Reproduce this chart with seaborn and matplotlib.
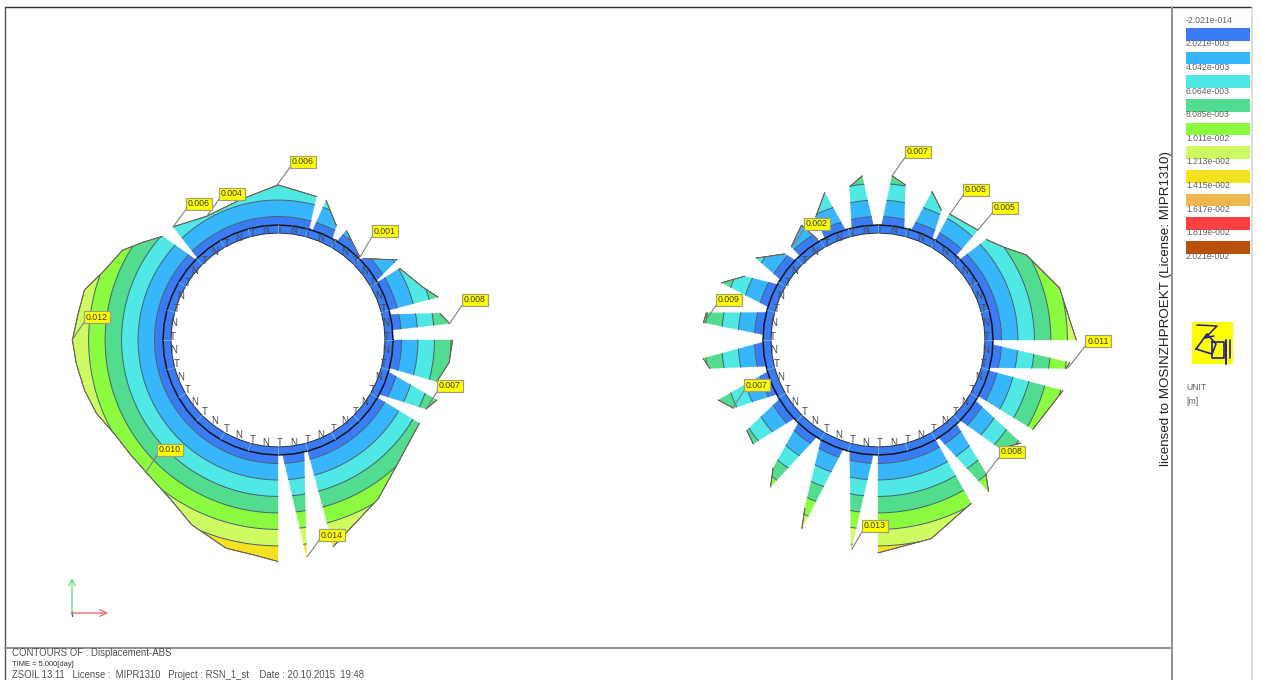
import numpy as np
import matplotlib
matplotlib.use('Agg')
import matplotlib.pyplot as plt
import seaborn as sns

# contour levels and colours, displacement in 1e-3 m
level_labels = ['-2.021e-014', '2.021e-003', '4.042e-003', '6.064e-003', '8.085e-003', '1.011e-002',
                '1.213e-002', '1.415e-002', '1.617e-002', '1.819e-002', '2.021e-002']
level_values = [0.0, 2.021, 4.042, 6.064, 8.085, 10.11, 12.13, 14.15, 16.17, 18.19, 20.21]
band_colors = ['#3a7cf5', '#38b6fb', '#4fe8e4', '#52dc8f', '#8bfb3f', '#cffb62', '#f3e21f', '#efb64d', '#fc4040', '#b9500a']

# one sector per list: (angle on the ring, angle of the outer point, displacement)
left_sectors = [
    [(135, 138, 5.9), (142.5, 144, 7.3), (150, 150, 8.9), (157.5, 158.7, 9.9), (165, 165.5, 11.4),
     (172.5, 172.4, 11.6), (180, 180, 12.1), (187.5, 186.6, 11.8), (195, 194.5, 11.4), (202.5, 202, 10.9),
     (210, 210, 10.0), (217.5, 217.4, 9.8), (225, 225, 9.8), (232.5, 235.6, 10.4), (240, 245, 11.9),
     (255, 256, 13.2), (262.5, 263.4, 13.4), (270, 270, 14.05)],
    [(135, 132.8, 5.8), (120, 120, 4.4), (105, 105, 4.7), (90, 90, 5.9), (74, 75, 5.1)],
    [(73, 71, 5.0), (61, 62.9, 2.6)],
    [(60, 58, 2.7), (45.6, 45.6, 1.2)],
    [(45, 43.9, 1.3), (30, 33.9, 4.5)],
    [(30, 30.5, 4.2), (22.5, 20, 5.8), (15, 15, 7.2)],
    [(13.7, 9.4, 7.0), (4.9, 5.5, 8.0)],
    [(0, 0, 8.3), (-7.5, -7.5, 8.05), (-14, -14.7, 7.0)],
    [(-15, -20.7, 7.7), (-29, -25, 6.9)],
    [(-30, -30.5, 7.0), (-45, -47, 8.1), (-60, -57.7, 9.9), (-75, -75, 13.1)],
    [(-88.5, -82.5, 13.7), (-76, -82.5, 13.7)],
]
right_sectors = [
    [(45, 42.9, 5.0), (37.5, 36.7, 6.0), (30, 29.8, 7.85), (22.5, 22.5, 8.8), (15, 15.9, 10.05),
     (7.5, 7.5, 10.4), (0, 0, 11.2)],
    [(-1.5, -6.7, 10.55), (-15, -8.6, 10.2)],
    [(-15.5, -15.3, 10.4), (-29, -30, 8.8)],
    [(-31, -35.8, 8.5), (-45, -41.7, 6.9)],
    [(-46, -51, 7.9), (-50, -53.9, 9.9), (-59, -53.9, 9.9)],
    [(-60, -60.3, 9.95), (-75, -75, 12.1), (-90, -90, 13.0)],
    [(-91.6, -97.3, 12.8), (-105.4, -97.3, 12.8)],
    [(-107, -112, 11.8), (-121, -113.5, 9.4)],
    [(-121.5, -126.2, 9.2), (-135, -129.3, 7.2)],
    [(-136, -140.2, 6.8), (-150, -145.5, 6.4)],
    [(-151, -154.8, 6.5), (-165, -159.4, 7.8)],
    [(-166, -170.4, 7.8), (-180, -174, 8.45)],
    [(178, 174.3, 8.4), (165, 171, 8.2)],
    [(164, 159.9, 7.3), (150, 154.4, 5.0)],
    [(149, 146.1, 4.9), (135, 137.3, 2.45)],
    [(133, 132.9, 2.5), (125, 123.7, 3.8), (121, 121, 1.3)],
    [(118, 116.8, 3.8), (112, 109.9, 6.1), (105.5, 109.9, 6.1)],
    [(104, 100.5, 6.0), (91.5, 95.5, 7.1)],
    [(89, 85.1, 7.1), (76, 80, 6.2)],
    [(74, 70, 6.25), (61, 64, 4.6)],
    [(60, 60.4, 4.65), (47, 47.7, 5.1)],
]

# yellow value flags
left_flags = ['0.006', '0.004', '0.006', '0.001', '0.008', '0.012', '0.007', '0.010', '0.014']
left_flag_xy = [(303, 162), (232, 194), (199, 204), (385, 231), (475, 300), (97, 317), (450, 386), (170, 450), (332, 535)]
left_flag_tip = [(277, 185), (207, 216), (173, 227), (360, 257), (450, 323), (72, 340), (426, 409), (146, 472), (307, 557)]
right_flags = ['0.007', '0.005', '0.005', '0.002', '0.009', '0.007', '0.011', '0.008', '0.013']
right_flag_xy = [(918, 152), (976, 190), (1005, 208), (817, 224), (729, 300), (757, 385), (1098, 341), (1012, 452), (875, 526)]
right_flag_tip = [(892, 176), (950, 214), (978, 230), (792, 247), (704, 323), (733, 408), (1068, 368), (987, 473), (852, 549)]

R0 = 107.0
RING = 115.0
K = 8.15  # px per 1e-3 m

sns.set_theme(style='white')
plt.rcParams['font.family'] = ['Liberation Sans', 'DejaVu Sans']

fig = plt.figure(figsize=(12.61, 6.80), dpi=100)
ax = fig.add_axes([0, 0, 1, 1])
ax.set_xlim(0, 1261)
ax.set_ylim(680, 0)
ax.axis('off')


def polar(cx, cy, ang, r):
    a = np.radians(ang)
    return np.column_stack([cx + r * np.cos(a), cy - r * np.sin(a)])


def draw_sector(cx, cy, nodes):
    nodes = np.array(nodes, dtype=float)
    s = np.linspace(0, len(nodes) - 1, 30 * (len(nodes) - 1) + 1)
    idx = np.arange(len(nodes))
    base = polar(cx, cy, np.interp(s, idx, nodes[:, 0]), R0)
    node_out = polar(cx, cy, nodes[:, 1], R0 + K * nodes[:, 2])
    outer = np.column_stack([np.interp(s, idx, node_out[:, 0]), np.interp(s, idx, node_out[:, 1])])
    d = (np.hypot(outer[:, 0] - cx, outer[:, 1] - cy) - R0) / K
    d = np.maximum(d, 0.05)
    for k, col in enumerate(band_colors):
        ta = np.minimum(level_values[k] / d, 1)[:, None]
        tb = np.minimum(level_values[k + 1] / d, 1)[:, None]
        pa = base + ta * (outer - base)
        pb = base + tb * (outer - base)
        poly = np.vstack([pa, pb[::-1]])
        ax.fill(poly[:, 0], poly[:, 1], color=col, lw=0.2, zorder=2)
        line = pb.copy()
        line[level_values[k + 1] >= d] = np.nan
        ax.plot(line[:, 0], line[:, 1], color='#46606e', lw=0.7, zorder=3)
    ax.plot(outer[:, 0], outer[:, 1], color='#5a6a70', lw=0.8, zorder=3)


def draw_ring(cx, cy):
    ang = np.arange(0, 361, 7.5)
    inner = polar(cx, cy, ang, R0)
    out = polar(cx, cy, ang, RING)
    poly = np.vstack([inner, out[::-1]])
    ax.fill(poly[:, 0], poly[:, 1], color=band_colors[0], lw=0, zorder=4)
    ax.plot(out[:, 0], out[:, 1], color='#101418', lw=1.1, zorder=5)
    ax.plot(inner[:, 0], inner[:, 1], color='#303438', lw=0.7, zorder=5)
    for a in np.arange(0, 360, 15):
        p = polar(cx, cy, np.array([a, a]), np.array([R0, RING]))
        ax.plot(p[:, 0], p[:, 1], color='#6fb8d8', lw=0.6, zorder=5)
        tp = polar(cx, cy, np.array([a, a + 7.5]), np.array([R0, R0]))
        ax.text(tp[0, 0] + 2, tp[0, 1] - 3.5, 'T', fontsize=7, color='#484848', ha='center', va='center', zorder=6)
        ax.text(tp[1, 0] + 2, tp[1, 1] - 3.5, 'N', fontsize=7, color='#484848', ha='center', va='center', zorder=6)


def draw_flags(flags, xy, tips):
    for txt, (x, y), (tx, ty) in zip(flags, xy, tips):
        ax.plot([x - 12, tx], [y + 4, ty], color='#808080', lw=0.8, zorder=7)
        ax.text(x, y, txt, fontsize=6.3, color='#383838', ha='center', va='center', zorder=8,
                bbox=dict(boxstyle='square,pad=0.22', fc='#ffff00', ec='#a0a080', lw=0.9))


for cx, sectors in zip([278, 878], [left_sectors, right_sectors]):
    for nodes in sectors:
        draw_sector(cx, 340, nodes)
    draw_ring(cx, 340)
draw_flags(left_flags, left_flag_xy, left_flag_tip)
draw_flags(right_flags, right_flag_xy, right_flag_tip)

# frame of the viewer window
ax.plot([5, 1252], [7, 7], color='#303030', lw=1.0)
ax.plot([5, 5], [7, 680], color='#505050', lw=1.0)
ax.plot([5, 1172], [648, 648], color='#909090', lw=1.4)
ax.plot([1172, 1172], [7, 680], color='#909090', lw=1.4)
ax.plot([1252, 1252], [7, 680], color='#d8d8d8', lw=1.2)

# legend column
for i, col in enumerate(band_colors):
    ax.fill([1186, 1250, 1250, 1186], [28 + 23.68 * i, 28 + 23.68 * i, 40.5 + 23.68 * i, 40.5 + 23.68 * i], color=col, lw=0)
for i, lab in enumerate(level_labels):
    ax.text(1186, 20.3 + 23.6 * i, lab, fontsize=6.2, color='#606060', ha='left', va='center')

ax.text(1166, 309, 'licensed to MOSINZHPROEKT (License: MIPR1310)', rotation=90, fontsize=9.6,
        color='#202020', ha='center', va='center')

# logo
ax.fill([1192, 1233, 1233, 1192], [322, 322, 364, 364], color='#ffff00', lw=0)
logo = '#20208c'
ax.plot([1197, 1217, 1205, 1214], [325, 326, 338, 336], color=logo, lw=1.1)
ax.plot([1196, 1207, 1216, 1212, 1196], [349, 334, 344, 354, 349], color=logo, lw=1.2)
ax.plot([1212, 1224, 1224, 1212, 1212], [342, 342, 358, 358, 342], color=logo, lw=1.2)
ax.plot([1226, 1226], [340, 364], color=logo, lw=1.4)
ax.plot([1230, 1230], [340, 358], color=logo, lw=1.2)
ax.text(1186, 388, 'UNIT', fontsize=6.2, color='#606060', ha='left', va='center')
ax.text(1186, 402, '[m]', fontsize=6.2, color='#606060', ha='left', va='center')

# axis cross
ax.annotate('', xy=(72, 578), xytext=(72, 614), arrowprops=dict(arrowstyle='->', color='#60e080', lw=0.9, shrinkA=0, shrinkB=0))
ax.annotate('', xy=(108, 613), xytext=(71, 613), arrowprops=dict(arrowstyle='->', color='#f06060', lw=0.9, shrinkA=0, shrinkB=0))
ax.plot([72, 72], [611, 616], color='#5050e0', lw=1.0)

# info block
ax.text(12, 653, 'CONTOURS OF : Displacement-ABS', fontsize=6.9, color='#505050', ha='left', va='center')
ax.text(12, 664.5, 'TIME = 5.000[day]', fontsize=5.4, color='#303030', ha='left', va='center')
ax.text(12, 675.5, 'ZSOIL 13.11   License :  MIPR1310   Project : RSN_1_st    Date : 20.10.2015  19:48',
        fontsize=6.85, color='#505050', ha='left', va='center')

fig.savefig('out.png', dpi=100)
